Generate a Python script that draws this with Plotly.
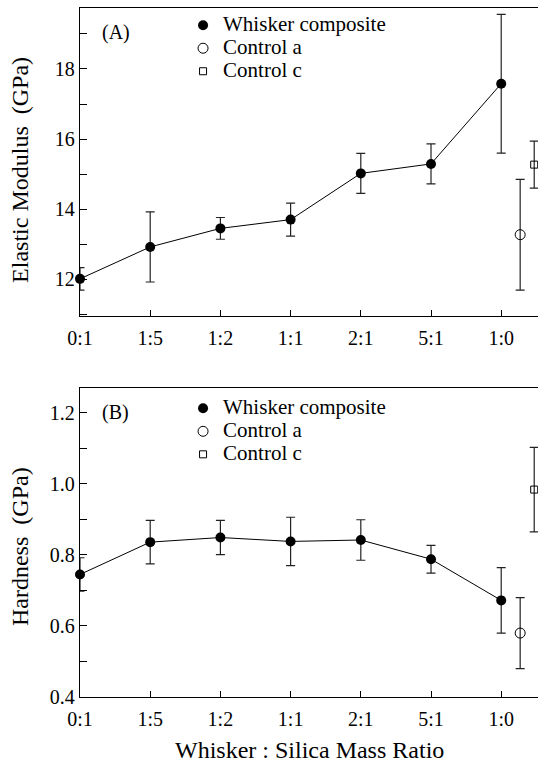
import plotly.graph_objects as go

# ---- data ----
ratio_labels = ["0:1", "1:5", "1:2", "1:1", "2:1", "5:1", "1:0"]
ratio_pos = [0, 1, 2, 3, 4, 5, 6]

modulus = [12.01, 12.92, 13.45, 13.70, 15.02, 15.29, 17.58]
modulus_err = [0.32, 1.00, 0.31, 0.47, 0.57, 0.57, 1.98]
ctrl_a_pos = [6.27]
ctrl_a_mod = [13.27]
ctrl_a_mod_err = [1.58]
ctrl_c_pos = [6.47]
ctrl_c_mod = [15.27]
ctrl_c_mod_err = [0.67]

hardness = [0.745, 0.836, 0.849, 0.838, 0.842, 0.788, 0.672]
hardness_err = [0.047, 0.061, 0.048, 0.068, 0.057, 0.039, 0.092]
ctrl_a_hard = [0.580]
ctrl_a_hard_err = [0.100]
ctrl_c_hard = [0.984]
ctrl_c_hard_err = [0.119]

series_names = ["Whisker composite", "Control a", "Control c"]

FONT = "Liberation Serif"
ERRC = "#222222"


def err(vals):
    return dict(type="data", array=vals, visible=True, color=ERRC, thickness=1.2, width=4.5)


def lname(s):
    # larger visible text while keeping the legend row pitch compact
    return '<span style="font-size:21px">' + s + "</span>"


fig = go.Figure()

panels = [
    ("x", "y", "legend", modulus, modulus_err, ctrl_a_mod, ctrl_a_mod_err, ctrl_c_mod, ctrl_c_mod_err),
    ("x2", "y2", "legend2", hardness, hardness_err, ctrl_a_hard, ctrl_a_hard_err, ctrl_c_hard, ctrl_c_hard_err),
]
for xa, ya, lg, v, e, av, ae, cv, ce in panels:
    fig.add_trace(go.Scatter(x=ratio_pos, y=v, mode="lines", line=dict(color="black", width=1),
                             showlegend=False, xaxis=xa, yaxis=ya, cliponaxis=False, hoverinfo="skip"))
    fig.add_trace(go.Scatter(x=ratio_pos, y=v, mode="markers", name=lname(series_names[0]),
                             marker=dict(symbol="circle", size=10, color="black"),
                             error_y=err(e), xaxis=xa, yaxis=ya, legend=lg, cliponaxis=False))
    fig.add_trace(go.Scatter(x=ctrl_a_pos, y=av, mode="markers", name=lname(series_names[1]),
                             marker=dict(symbol="circle-open", size=10, color="black", line=dict(width=1)),
                             error_y=err(ae), xaxis=xa, yaxis=ya, legend=lg, cliponaxis=False))
    fig.add_trace(go.Scatter(x=ctrl_c_pos, y=cv, mode="markers", name=lname(series_names[2]),
                             marker=dict(symbol="square-open", size=7, color="black", line=dict(width=1)),
                             error_y=err(ce), xaxis=xa, yaxis=ya, legend=lg, cliponaxis=False))

tickfont = dict(family=FONT, size=20, color="black")
xcommon = dict(range=[0, 6.524], tickvals=ratio_pos, ticktext=ratio_labels, ticks="inside", ticklen=6,
               tickcolor="black", showline=True, linecolor="black", linewidth=1.3, mirror=True,
               showgrid=False, zeroline=False, tickfont=tickfont, ticklabelstandoff=4)
ycommon = dict(ticks="inside", ticklen=7, tickcolor="black", showline=True, linecolor="black",
               linewidth=1.3, mirror=False, showgrid=False, zeroline=False, tickfont=tickfont)

legend_common = dict(font=dict(family=FONT, size=15.4, color="black"), bgcolor="rgba(0,0,0,0)",
                     xanchor="left", yanchor="top", itemclick=False, tracegroupgap=0)

fig.update_layout(
    width=538, height=769,
    margin=dict(l=80, r=0, t=8, b=72),
    paper_bgcolor="white", plot_bgcolor="white",
    font=dict(family=FONT, color="black"),
    xaxis=dict(domain=[0, 1], anchor="y", **xcommon),
    yaxis=dict(domain=[0.5525, 1], anchor="x", range=[10.94, 19.74], tick0=12, dtick=2,
               minor=dict(dtick=1, tick0=11, ticks="inside", ticklen=7, tickcolor="black"), **ycommon),
    xaxis2=dict(domain=[0, 1], anchor="y2", **xcommon),
    yaxis2=dict(domain=[0, 0.4485], anchor="x2", range=[0.4, 1.27], tick0=0.4, dtick=0.2, tickformat=".1f",
                minor=dict(dtick=0.1, tick0=0.4, ticks="inside", ticklen=7, tickcolor="black"), **ycommon),
    legend=dict(x=0.225, y=0.999, **legend_common),
    legend2=dict(x=0.225, y=0.443, **legend_common),
    annotations=[
        dict(text="(A)", xref="paper", yref="paper", x=0.044, y=0.965, xanchor="left", yanchor="middle",
             showarrow=False, font=dict(family=FONT, size=20)),
        dict(text="(B)", xref="paper", yref="paper", x=0.044, y=0.4136, xanchor="left", yanchor="middle",
             showarrow=False, font=dict(family=FONT, size=20)),
        dict(text="Elastic Modulus  (GPa)", xref="paper", yref="paper", x=-0.1310, y=0.765, textangle=-90,
             xanchor="center", yanchor="middle", showarrow=False, font=dict(family=FONT, size=24)),
        dict(text="Hardness  (GPa)", xref="paper", yref="paper", x=-0.1310, y=0.2177, textangle=-90,
             xanchor="center", yanchor="middle", showarrow=False, font=dict(family=FONT, size=24)),
        dict(text="Whisker : Silica Mass Ratio", xref="paper", yref="paper", x=0.5, y=-0.0769,
             xanchor="center", yanchor="middle", showarrow=False, font=dict(family=FONT, size=24)),
    ],
)

fig.write_html("out.html", config={"displayModeBar": False},
               post_script="document.body.style.margin='0px';document.body.style.overflow='hidden';")
